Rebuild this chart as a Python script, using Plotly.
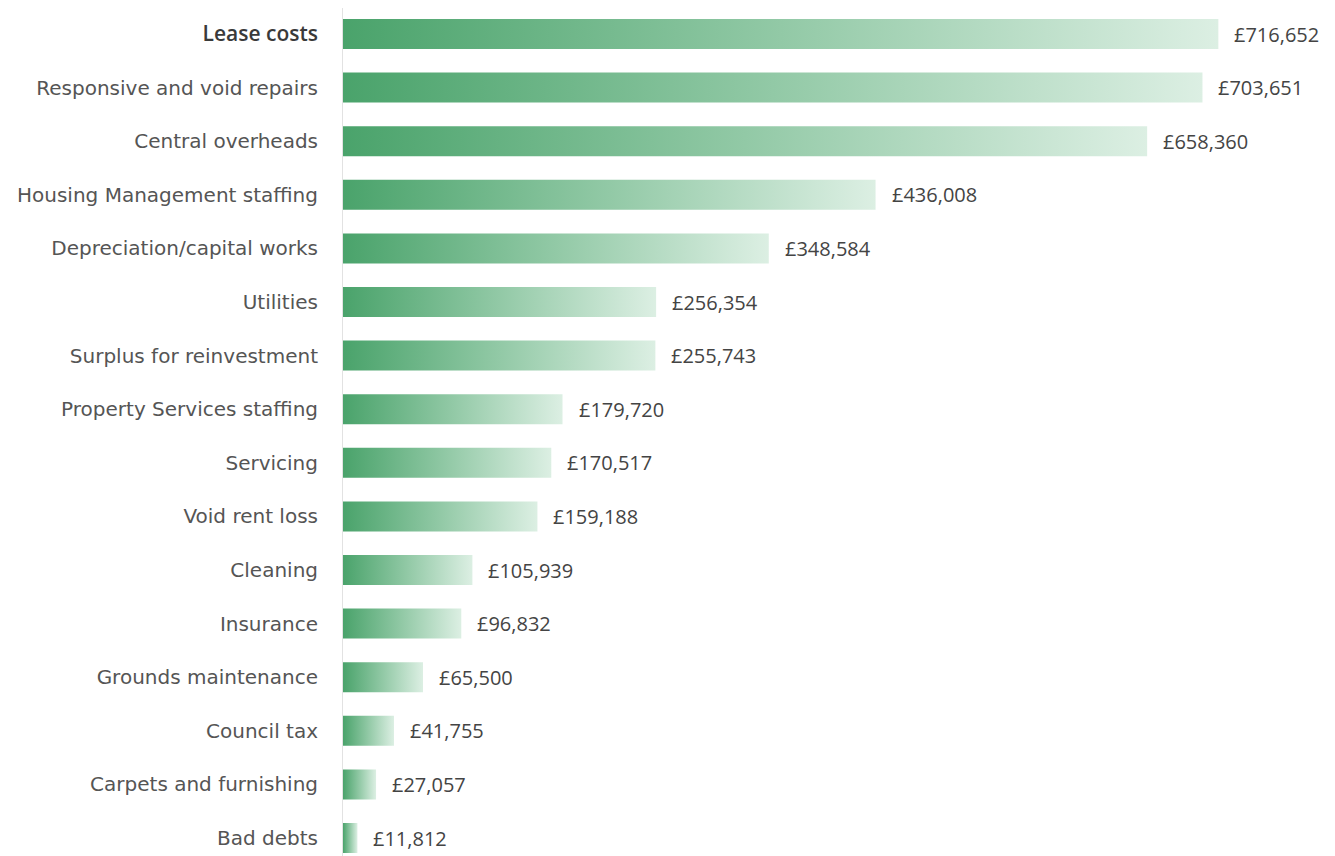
import plotly.graph_objects as go

categories = [
    "Lease costs", "Responsive and void repairs", "Central overheads",
    "Housing Management staffing", "Depreciation/capital works", "Utilities",
    "Surplus for reinvestment", "Property Services staffing", "Servicing",
    "Void rent loss", "Cleaning", "Insurance", "Grounds maintenance",
    "Council tax", "Carpets and furnishing", "Bad debts",
]
values = [716652, 703651, 658360, 436008, 348584, 256354, 255743, 179720,
          170517, 159188, 105939, 96832, 65500, 41755, 27057, 11812]

BAR_HALF = 0.28
DARK = "#4aa36b"
MID = "#92c9a6"
LIGHT = "#dcefe3"

fig = go.Figure()
for i, v in enumerate(values):
    fig.add_trace(go.Scatter(
        x=[0, v, v, 0, 0],
        y=[i - BAR_HALF, i - BAR_HALF, i + BAR_HALF, i + BAR_HALF, i - BAR_HALF],
        mode="lines",
        line=dict(width=0),
        fill="toself",
        fillgradient=dict(type="horizontal",
                          colorscale=[[0, DARK], [0.5, MID], [1, LIGHT]],
                          start=0, stop=v),
        hoverinfo="skip",
        showlegend=False,
    ))

for i, v in enumerate(values):
    fig.add_annotation(
        x=v, y=i, text=f"£{v:,}", showarrow=False,
        xanchor="left", yanchor="middle", xshift=14,
        font=dict(family="Open Sans", size=20, color="#444444", weight=500),
    )

ticktext = [("<span style='font-family:Open Sans;font-weight:600;font-size:21px;color:#3a3a3a'>" + c + "</span>")
            if idx == 0 else c for idx, c in enumerate(categories)]

fig.update_layout(
    width=1335, height=856,
    margin=dict(l=335, r=0, t=0, b=0),
    plot_bgcolor="white", paper_bgcolor="white",
    xaxis=dict(range=[0, 818700], visible=False, fixedrange=True),
    yaxis=dict(
        range=[15.485, -0.485],
        tickvals=list(range(len(categories))),
        ticktext=ticktext,
        showgrid=False, zeroline=False,
        showline=True, linecolor="#e2e2e2", linewidth=1,
        ticks="", ticklabelstandoff=20,
        tickfont=dict(family="DejaVu Sans", size=20, color="#555555"),
    ),
)

fig.write_html("out.html")
